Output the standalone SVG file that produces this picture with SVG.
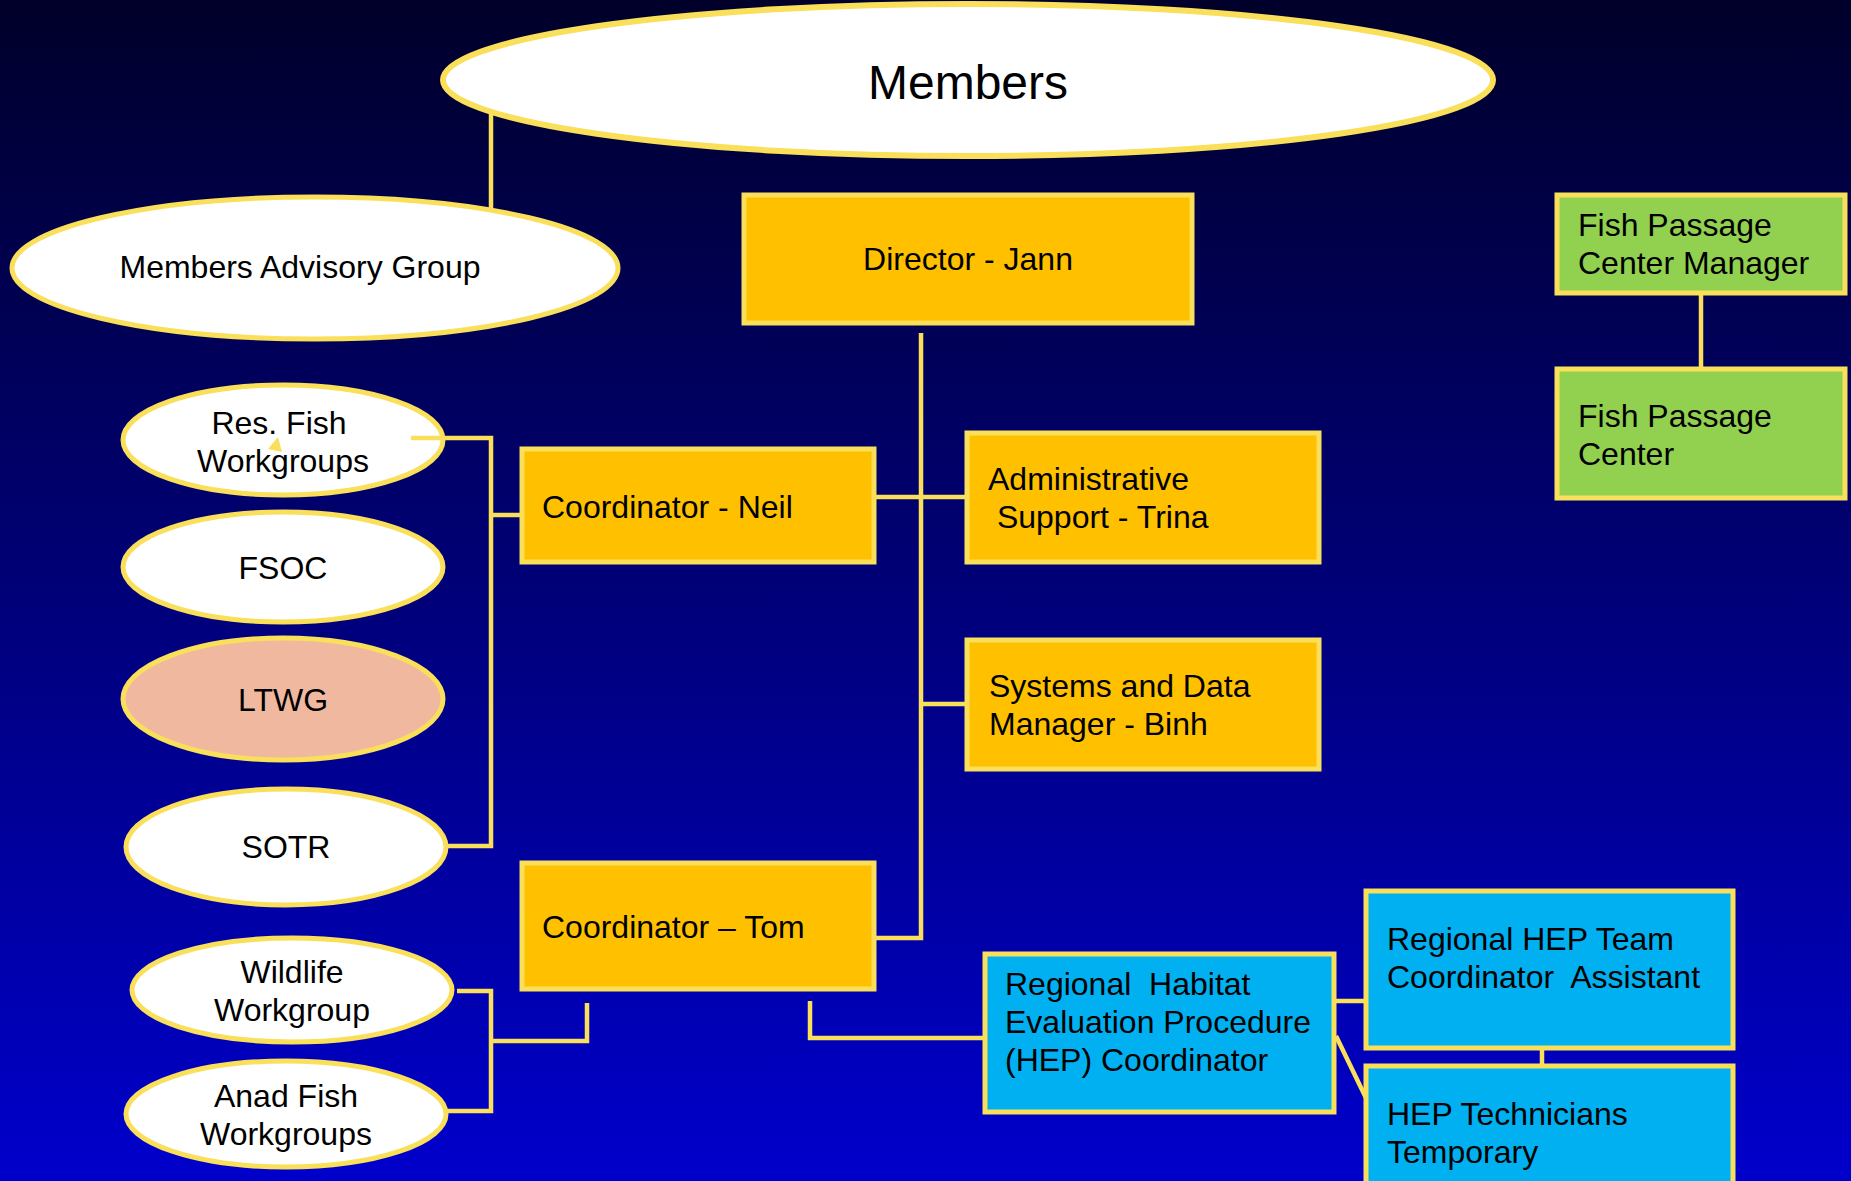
<svg xmlns="http://www.w3.org/2000/svg" width="1851" height="1181" viewBox="0 0 1851 1181">
<defs>
<linearGradient id="bg" x1="0" y1="0" x2="0" y2="1">
<stop offset="0" stop-color="#00002a"/>
<stop offset="0.5" stop-color="#000078"/>
<stop offset="1" stop-color="#0000cc"/>
</linearGradient>
<style>
.ell{fill:#ffffff;stroke:#f9df5a;stroke-width:5}
.org{fill:#ffc000;stroke:#f9df5a;stroke-width:5}
.grn{fill:#92d050;stroke:#f9df5a;stroke-width:5}
.blu{fill:#00b0f0;stroke:#f9df5a;stroke-width:5}
.t{font-family:"Liberation Sans",Arial,sans-serif;font-size:32px;fill:#000000}
.c{text-anchor:middle}
.ln{stroke:#f9df5a;stroke-width:4.5;fill:none}
</style>
</defs>
<rect x="0" y="0" width="1851" height="1181" fill="url(#bg)"/>

<g id="members">
<ellipse class="ell" cx="968" cy="80" rx="525" ry="76" style="stroke-width:6"/>
<text class="t c" x="968" y="99" style="font-size:48px">Members</text>
</g>
<g id="members-advisory-group">
<ellipse class="ell" cx="315" cy="268" rx="303" ry="71"/>
<text class="t c" x="300" y="278">Members Advisory Group</text>
</g>
<g id="director">
<rect class="org" x="744" y="195" width="448" height="128"/>
<text class="t c" x="968" y="270">Director - Jann</text>
</g>
<g id="fpc-manager">
<rect class="grn" x="1557" y="195" width="288" height="98"/>
<text class="t" x="1578" y="236">Fish Passage<tspan x="1578" y="274">Center Manager</tspan></text>
</g>
<g id="fpc">
<rect class="grn" x="1557" y="369" width="288" height="129"/>
<text class="t" x="1578" y="427">Fish Passage<tspan x="1578" y="465">Center</tspan></text>
</g>
<g id="res-fish">
<ellipse class="ell" cx="283" cy="440" rx="160" ry="55"/>
<text class="t c" x="279" y="434">Res. Fish<tspan x="283" y="472">Workgroups</tspan></text>
</g>
<g id="fsoc">
<ellipse class="ell" cx="283" cy="567" rx="160" ry="55"/>
<text class="t c" x="283" y="579">FSOC</text>
</g>
<g id="ltwg">
<ellipse class="ell" cx="283" cy="699" rx="160" ry="61" style="fill:#f0b99f"/>
<text class="t c" x="283" y="711">LTWG</text>
</g>
<g id="sotr">
<ellipse class="ell" cx="286" cy="847" rx="160" ry="58"/>
<text class="t c" x="286" y="858">SOTR</text>
</g>
<g id="wildlife">
<ellipse class="ell" cx="292" cy="990" rx="160" ry="52"/>
<text class="t c" x="292" y="983">Wildlife<tspan x="292" y="1021">Workgroup</tspan></text>
</g>
<g id="anad-fish">
<ellipse class="ell" cx="286" cy="1114" rx="160" ry="53"/>
<text class="t c" x="286" y="1107">Anad Fish<tspan x="286" y="1145">Workgroups</tspan></text>
</g>
<g id="coord-neil">
<rect class="org" x="522" y="449" width="352" height="113"/>
<text class="t" x="542" y="518">Coordinator - Neil</text>
</g>
<g id="admin">
<rect class="org" x="967" y="433" width="352" height="129"/>
<text class="t" x="988" y="490" xml:space="preserve">Administrative<tspan x="988" y="528"> Support - Trina</tspan></text>
</g>
<g id="systems">
<rect class="org" x="967" y="640" width="352" height="129"/>
<text class="t" x="989" y="697">Systems and Data<tspan x="989" y="735">Manager - Binh</tspan></text>
</g>
<g id="coord-tom">
<rect class="org" x="522" y="863" width="352" height="126"/>
<text class="t" x="542" y="938">Coordinator – Tom</text>
</g>
<g id="hep-coord">
<rect class="blu" x="985" y="954" width="349" height="158"/>
<text class="t" x="1005" y="995" xml:space="preserve">Regional  Habitat<tspan x="1005" y="1033">Evaluation Procedure</tspan><tspan x="1005" y="1071">(HEP) Coordinator</tspan></text>
</g>
<g id="hep-team">
<rect class="blu" x="1366" y="891" width="367" height="157"/>
<text class="t" x="1387" y="950" xml:space="preserve">Regional HEP Team<tspan x="1387" y="988">Coordinator  Assistant</tspan></text>
</g>
<g id="hep-tech">
<rect class="blu" x="1366" y="1066" width="367" height="130"/>
<text class="t" x="1387" y="1125">HEP Technicians<tspan x="1387" y="1163">Temporary</tspan></text>
</g>

<g id="connectors">
<line class="ln" x1="491" y1="112" x2="491" y2="209"/>
<line class="ln" x1="1701" y1="293" x2="1701" y2="369"/>
<polyline class="ln" points="921,333 921,938 874,938"/>
<line class="ln" x1="874" y1="497" x2="967" y2="497"/>
<line class="ln" x1="921" y1="704" x2="967" y2="704"/>
<polyline class="ln" points="411,438 491,438 491,846 446,846"/>
<line class="ln" x1="491" y1="515" x2="522" y2="515"/>
<polyline class="ln" points="457,991 491,991 491,1111 446,1111"/>
<polyline class="ln" points="491,1041 587,1041 587,1003"/>
<polyline class="ln" points="810,1001 810,1038 985,1038"/>
<line class="ln" x1="1334" y1="1001" x2="1366" y2="1001"/>
<line class="ln" x1="1336" y1="1036" x2="1366" y2="1098"/>
<line class="ln" x1="1542" y1="1048" x2="1542" y2="1066"/>
<polygon points="278,437 268,449 282,452" fill="#f9df5a"/>
</g>
</svg>
